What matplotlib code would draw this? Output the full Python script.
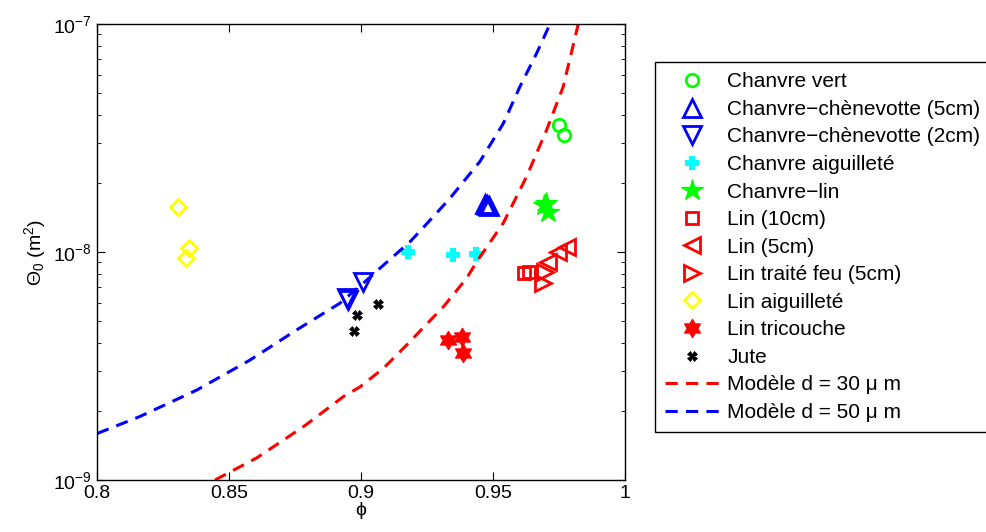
import numpy as np
import matplotlib
matplotlib.use('Agg')
from matplotlib import pyplot as plt
from matplotlib.path import Path

plt.rcParams['font.family'] = ['Liberation Sans', 'DejaVu Sans']
plt.rcParams['mathtext.fontset'] = 'custom'
plt.rcParams['mathtext.rm'] = 'Liberation Sans'
plt.rcParams['mathtext.it'] = 'Liberation Sans'

# measured points (porosity phi, permeability Theta0 in m^2)
chanvre_vert_x = [0.9750, 0.9769]
chanvre_vert_y = [3.61e-8, 3.26e-8]
chenevotte5_x = [0.9470, 0.9478, 0.9484]
chenevotte5_y = [1.62e-8, 1.60e-8, 1.59e-8]
chenevotte2_x = [0.9009, 0.8946, 0.8950]
chenevotte2_y = [7.41e-9, 6.27e-9, 6.15e-9]
chanvre_aig_x = [0.9179, 0.9347, 0.9434]
chanvre_aig_y = [9.97e-9, 9.70e-9, 9.80e-9]
chanvre_lin_x = [0.9699, 0.9709, 0.9694]
chanvre_lin_y = [1.64e-8, 1.50e-8, 1.60e-8]
lin10_x = [0.9617, 0.9636]
lin10_y = [8.1e-9, 8.2e-9]
lin5_x = [0.9709, 0.9747, 0.9779]
lin5_y = [9.05e-9, 1.00e-8, 1.05e-8]
lin_feu_x = [0.9691, 0.9697]
lin_feu_y = [7.3e-9, 8.2e-9]
lin_aig_x = [0.8307, 0.8349, 0.8338]
lin_aig_y = [1.58e-8, 1.04e-8, 9.44e-9]
lin_tri_x = [0.9331, 0.9381, 0.9388]
lin_tri_y = [4.11e-9, 4.23e-9, 3.61e-9]
jute_x = [0.8974, 0.8984, 0.9063]
jute_y = [4.52e-9, 5.3e-9, 5.91e-9]

# model curves
model30_x = [0.8447, 0.8605, 0.8781, 0.8933, 0.8996, 0.9085, 0.9173, 0.9312, 0.9400,
             0.9438, 0.9539, 0.9627, 0.9703, 0.9766, 0.9823]
model30_y = [1.0e-9, 1.25e-9, 1.71e-9, 2.32e-9, 2.56e-9, 3.09e-9, 3.91e-9, 5.75e-9, 7.67e-9,
             9.05e-9, 1.34e-8, 2.14e-8, 3.43e-8, 5.31e-8, 1.0e-7]
model50_x = [0.8001, 0.8163, 0.8378, 0.8580, 0.8756, 0.8920, 0.9022, 0.9072, 0.9186,
             0.9236, 0.9337, 0.9450, 0.9539, 0.9602, 0.9665, 0.9716]
model50_y = [1.60e-9, 1.90e-9, 2.48e-9, 3.36e-9, 4.55e-9, 5.96e-9, 7.53e-9, 8.49e-9, 1.11e-8,
             1.28e-8, 1.72e-8, 2.49e-8, 3.66e-8, 5.31e-8, 7.43e-8, 1.0e-7]

# six-pointed star marker (MATLAB hexagram look)
ang = np.pi / 2 + np.arange(12) * np.pi / 6
rad = np.where(np.arange(12) % 2 == 0, 1.0, 1 / np.sqrt(3))
hex_verts = np.column_stack([rad * np.cos(ang), rad * np.sin(ang)])
hexagram = Path(np.vstack([hex_verts, hex_verts[:1]]), closed=True)

green = '#00ff00'
red = '#ff0000'
blue = '#0000ff'
fig = plt.figure(figsize=(9.87, 5.32), dpi=100)
ax = fig.add_axes([97 / 987, 52 / 532, 528 / 987, 456 / 532])

ax.plot(chanvre_vert_x, chanvre_vert_y, marker='o', mfc='none', mec=green, ls='none', mew=2, ms=9,
        label='Chanvre vert')
ax.plot(chenevotte5_x, chenevotte5_y, marker='^', mfc='none', mec=blue, ls='none', mew=2, ms=13,
        label='Chanvre\u2212chènevotte (5cm)')
ax.plot(chenevotte2_x, chenevotte2_y, marker='v', mfc='none', mec=blue, ls='none', mew=2, ms=13,
        label='Chanvre\u2212chènevotte (2cm)')
ax.plot(chanvre_aig_x, chanvre_aig_y, marker='P', mfc='#00ffff', mec='#00ffff', ls='none', mew=1.5, ms=9,
        label='Chanvre aiguilleté')
ax.plot(chanvre_lin_x, chanvre_lin_y, marker='*', mfc=green, mec=green, ls='none', mew=1, ms=16,
        label='Chanvre\u2212lin')
ax.plot(lin10_x, lin10_y, marker='s', mfc='none', mec=red, ls='none', mew=2, ms=9,
        label='Lin (10cm)')
ax.plot(lin5_x, lin5_y, marker='<', mfc='none', mec=red, ls='none', mew=2, ms=12,
        label='Lin (5cm)')
ax.plot(lin_feu_x, lin_feu_y, marker='>', mfc='none', mec=red, ls='none', mew=2, ms=12,
        label='Lin traité feu (5cm)')
ax.plot(lin_aig_x, lin_aig_y, marker='D', mfc='none', mec='#ffff00', ls='none', mew=2, ms=8.5,
        label='Lin aiguilleté')
ax.plot(lin_tri_x, lin_tri_y, marker=hexagram, mfc=red, mec=red, ls='none', mew=1, ms=13,
        label='Lin tricouche')
ax.plot(jute_x, jute_y, marker='X', mfc='k', mec='k', ls='none', mew=0.5, ms=7,
        label='Jute')
ax.plot(model30_x, model30_y, color=red, lw=2.2, dashes=(4, 2.7), label='Modèle d = 30 \u03bc m')
ax.plot(model50_x, model50_y, color=blue, lw=2.2, dashes=(4, 2.7), label='Modèle d = 50 \u03bc m')

ax.set_yscale('log')
ax.set_xlim(0.8, 1.0)
ax.set_ylim(1e-9, 1e-7)
ax.set_xticks([0.8, 0.85, 0.9, 0.95, 1.0])
ax.set_xticklabels(['0.8', '0.85', '0.9', '0.95', '1'])
ax.tick_params(which='both', direction='in', top=True, right=True, labelsize=14)
ax.tick_params(which='major', length=6)
ax.tick_params(which='minor', length=3)
ax.set_xlabel('\u03d5', fontsize=14, labelpad=0)
ax.set_ylabel(r'$\Theta_0$ (m$^2$)', fontsize=14)
for s in ax.spines.values():
    s.set_linewidth(1)

leg = ax.legend(loc='upper left', bbox_to_anchor=(655 / 987, 1 - 62 / 532),
                bbox_transform=fig.transFigure, borderaxespad=0, fontsize=15,
                fancybox=False, edgecolor='k', framealpha=1, labelspacing=0.41,
                handlelength=2.55, handletextpad=0.43, borderpad=0.5)
leg.get_frame().set_linewidth(1)

fig.savefig('out.png', dpi=100)
